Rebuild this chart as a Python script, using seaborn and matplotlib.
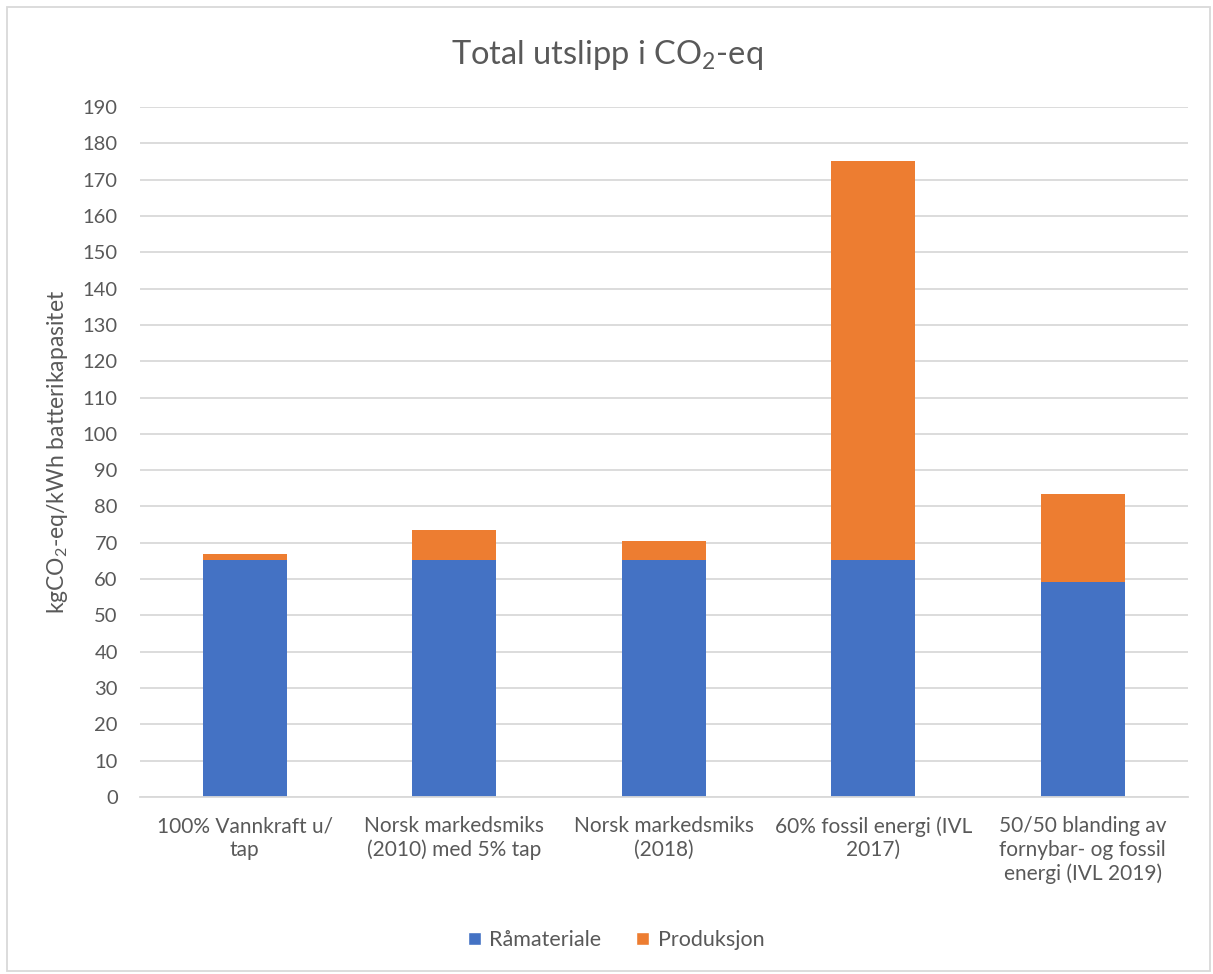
import matplotlib
matplotlib.use("Agg")
import matplotlib.pyplot as plt
import seaborn as sns
from matplotlib.patches import Rectangle, Patch

categories = [
    "100% Vannkraft u/\ntap",
    "Norsk markedsmiks\n(2010) med 5% tap",
    "Norsk markedsmiks\n(2018)",
    "60% fossil energi (IVL\n2017)",
    "50/50 blanding av\nfornybar- og fossil\nenergi (IVL 2019)",
]
raamateriale = [65.3, 65.3, 65.3, 65.3, 59.1]
produksjon = [1.7, 8.2, 5.3, 109.8, 24.3]
y_ticks = list(range(0, 200, 10))

BLUE = "#4472C4"
ORANGE = "#ED7D31"
TEXT = "#595959"
GRID = "#D9D9D9"

sns.set_theme(style="white")
plt.rcParams["font.family"] = ["Lato", "DejaVu Sans"]
plt.rcParams["mathtext.fontset"] = "custom"
plt.rcParams["mathtext.rm"] = "Lato"
plt.rcParams["mathtext.it"] = "Lato"
plt.rcParams["mathtext.bf"] = "Lato"

W, H = 1213, 974
fig = plt.figure(figsize=(W / 100, H / 100), dpi=100)
ax = fig.add_axes([140 / W, 1 - 797 / H, (1187.5 - 140) / W, (797 - 107) / H])

sns.barplot(x=categories, y=raamateriale, color=BLUE, width=0.4,
            saturation=1, ax=ax, linewidth=0)
sns.barplot(x=categories, y=produksjon, bottom=raamateriale, color=ORANGE,
            width=0.4, saturation=1, ax=ax, linewidth=0)

ax.set_ylim(0, 190)
ax.set_xlim(-0.5, len(categories) - 0.5)
ax.set_yticks(y_ticks)
ax.set_yticklabels([str(t) for t in y_ticks])
ax.yaxis.grid(True, color=GRID, linewidth=1.3)
ax.set_axisbelow(True)
for s in ["top", "right", "left"]:
    ax.spines[s].set_visible(False)
ax.spines["bottom"].set_color(GRID)
ax.spines["bottom"].set_linewidth(1.3)
ax.tick_params(axis="both", length=0, colors=TEXT)
ax.tick_params(axis="x", pad=14, labelsize=15)
ax.tick_params(axis="y", pad=16, labelsize=14.5)
for lab in ax.get_xticklabels():
    lab.set_linespacing(1.2)

ax.set_ylabel(r"kgCO$_2$-eq/kWh batterikapasitet", color=TEXT, fontsize=16.5,
              labelpad=9)

fig.text(0.5, 1 - 55 / H, r"Total utslipp i CO$_2$-eq", ha="center",
         va="center", fontsize=23.5, color=TEXT)

handles = [Patch(facecolor=BLUE, label="Råmateriale"),
           Patch(facecolor=ORANGE, label="Produksjon")]
fig.legend(handles=handles, loc="center", bbox_to_anchor=(616 / W, 1 - 940 / H),
           ncol=2, frameon=False, fontsize=15.5, handlelength=0.6,
           handleheight=0.6, handletextpad=0.4, columnspacing=1.6,
           labelcolor=TEXT)

fig.patches.append(Rectangle((7 / W, 3 / H), (W - 10) / W, (H - 10) / H,
                             transform=fig.transFigure, fill=False,
                             edgecolor=GRID, linewidth=1.3))

fig.savefig("out.png", dpi=100)
